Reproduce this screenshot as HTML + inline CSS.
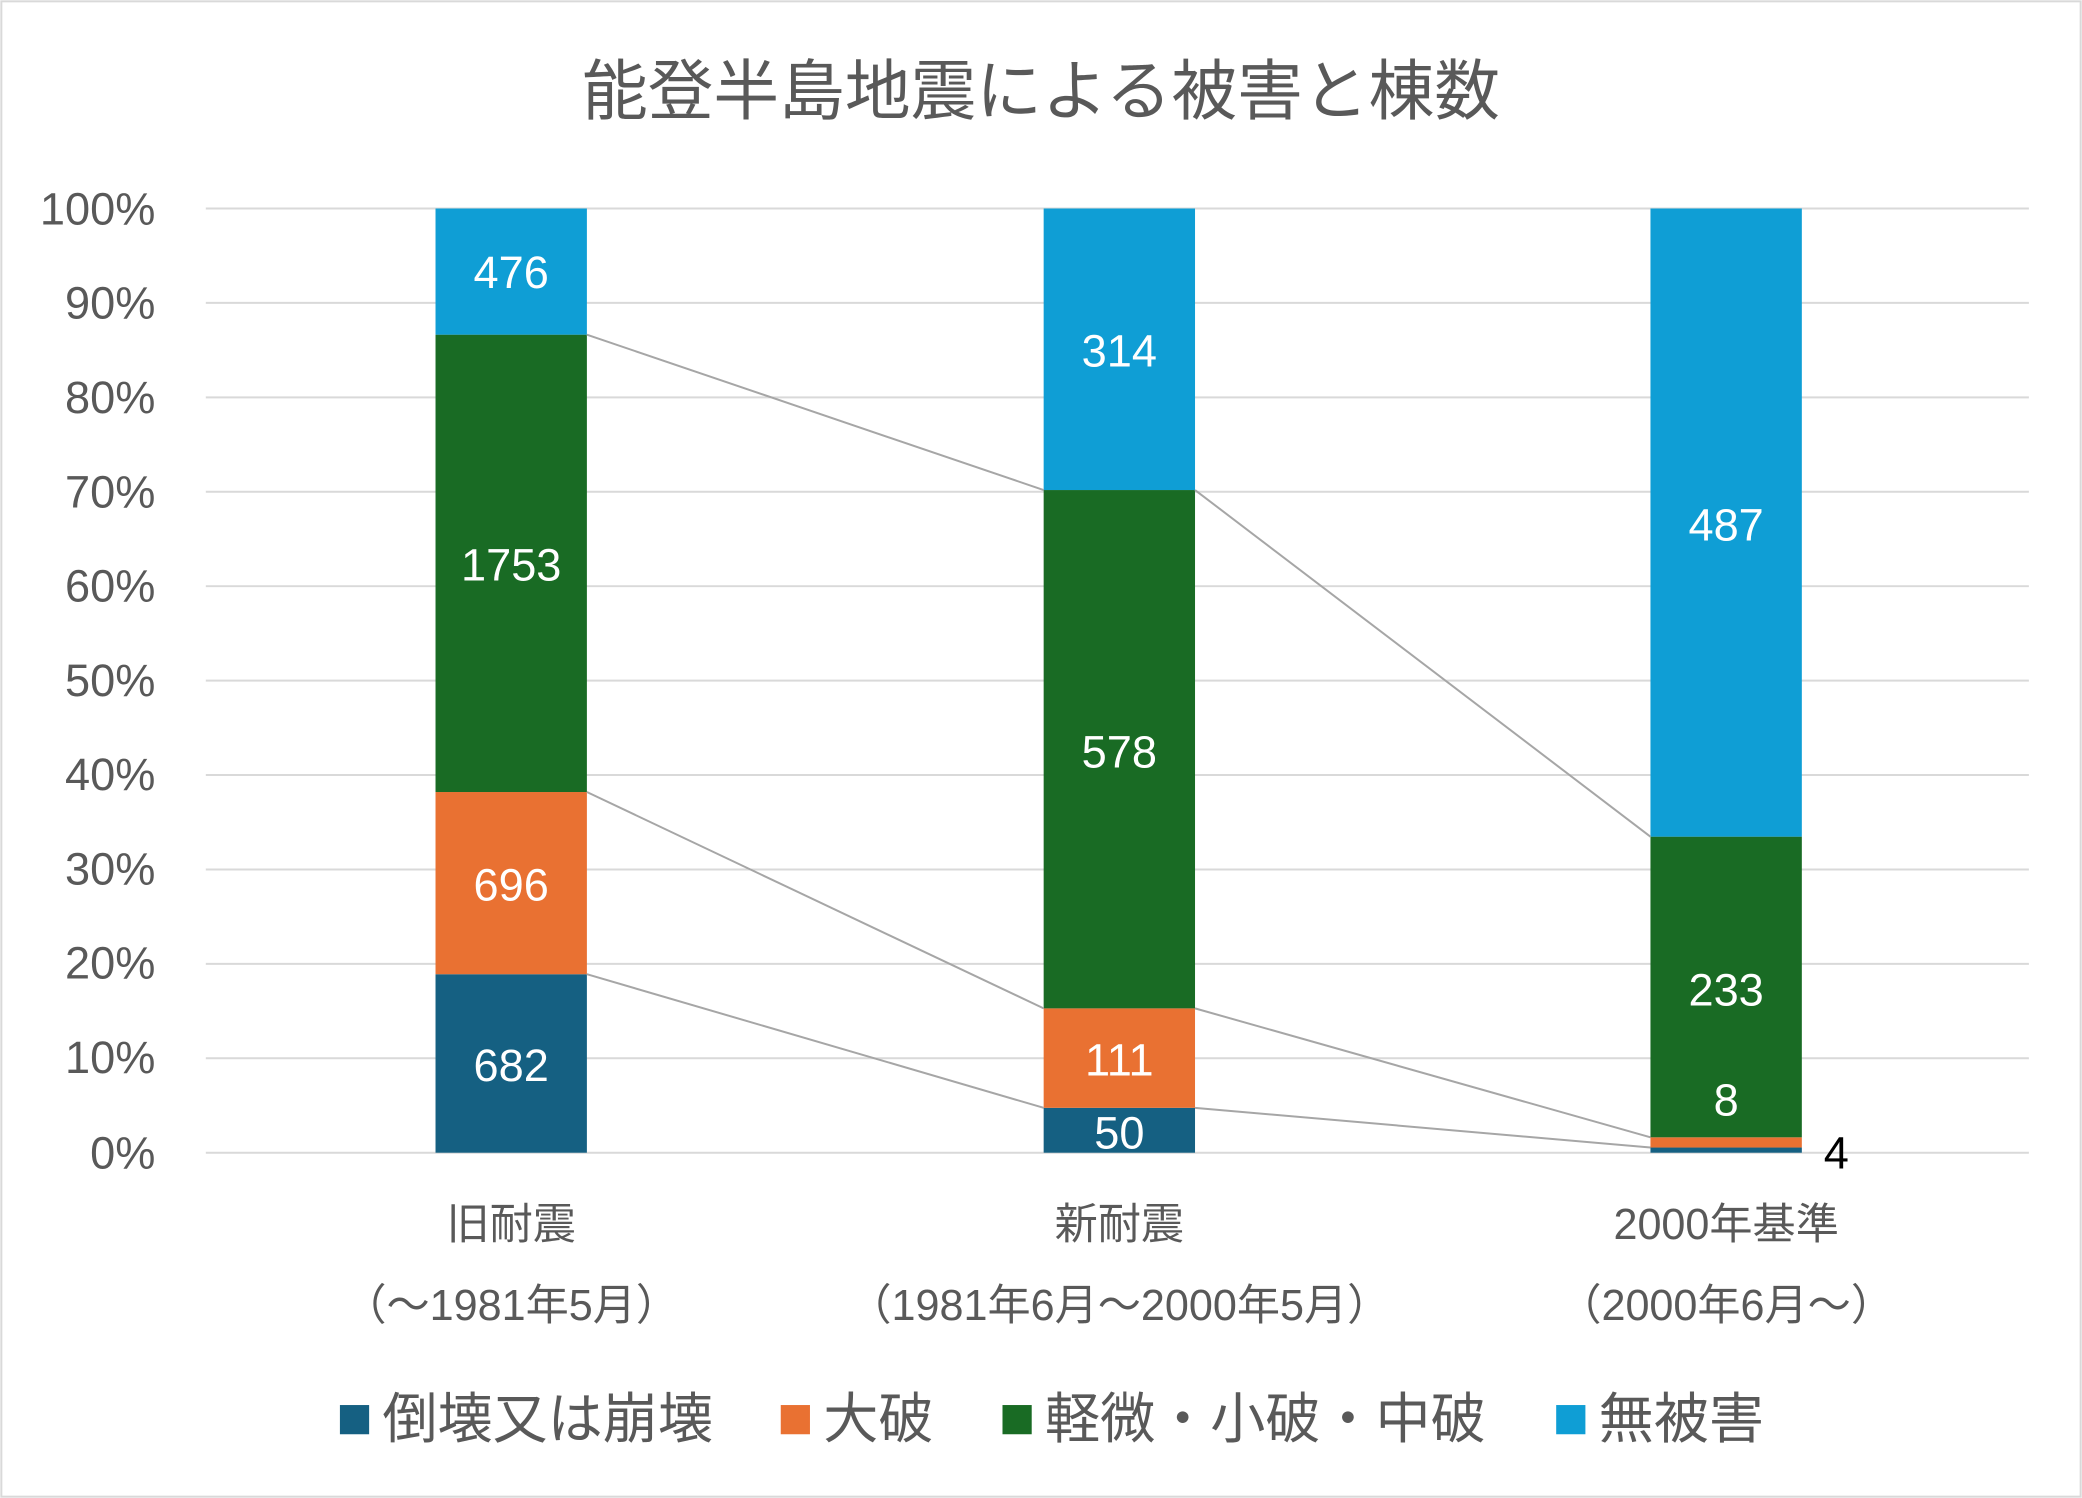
<!DOCTYPE html>
<html><head><meta charset="utf-8"><style>
html,body{margin:0;padding:0;background:#fff;}
svg{display:block;}
text{font-family:"Liberation Sans","Noto Sans CJK JP",sans-serif;}
</style></head><body>
<svg width="2082" height="1498" viewBox="0 0 1568 1128" preserveAspectRatio="none" xmlns="http://www.w3.org/2000/svg">
<rect x="0" y="0" width="1568" height="1128" fill="#fff"/>
<rect x="1" y="1" width="1566" height="1126" fill="none" stroke="#d9d9d9" stroke-width="1.5"/>
<text x="784" y="86" text-anchor="middle" font-size="49.5" fill="#595959">能登半島地震による被害と棟数</text>
<g stroke="#d9d9d9" stroke-width="1.5">
<line x1="155" x2="1528" y1="157" y2="157"/>
<line x1="155" x2="1528" y1="228.1" y2="228.1"/>
<line x1="155" x2="1528" y1="299.2" y2="299.2"/>
<line x1="155" x2="1528" y1="370.3" y2="370.3"/>
<line x1="155" x2="1528" y1="441.4" y2="441.4"/>
<line x1="155" x2="1528" y1="512.5" y2="512.5"/>
<line x1="155" x2="1528" y1="583.6" y2="583.6"/>
<line x1="155" x2="1528" y1="654.7" y2="654.7"/>
<line x1="155" x2="1528" y1="725.8" y2="725.8"/>
<line x1="155" x2="1528" y1="796.9" y2="796.9"/>
<line x1="155" x2="1528" y1="868" y2="868"/>
</g>
<g font-size="34" fill="#595959" text-anchor="end">
<text x="117" y="169">100%</text>
<text x="117" y="240">90%</text>
<text x="117" y="311">80%</text>
<text x="117" y="382">70%</text>
<text x="117" y="453">60%</text>
<text x="117" y="524">50%</text>
<text x="117" y="595">40%</text>
<text x="117" y="666">30%</text>
<text x="117" y="737">20%</text>
<text x="117" y="808">10%</text>
<text x="117" y="880">0%</text>
</g>
<rect x="328" y="733.6" width="114" height="134.4" fill="#156082"/>
<rect x="328" y="596.4" width="114" height="137.2" fill="#E97132"/>
<rect x="328" y="252" width="114" height="344.4" fill="#196B24"/>
<rect x="328" y="157" width="114" height="95" fill="#0F9ED5"/>
<rect x="786" y="834.2" width="114" height="33.8" fill="#156082"/>
<rect x="786" y="759.3" width="114" height="74.9" fill="#E97132"/>
<rect x="786" y="369" width="114" height="390.3" fill="#196B24"/>
<rect x="786" y="157" width="114" height="212" fill="#0F9ED5"/>
<rect x="1243" y="864.1" width="114" height="3.9" fill="#156082"/>
<rect x="1243" y="856.4" width="114" height="7.7" fill="#E97132"/>
<rect x="1243" y="630" width="114" height="226.4" fill="#196B24"/>
<rect x="1243" y="157" width="114" height="473" fill="#0F9ED5"/>
<g stroke="#a6a6a6" stroke-width="1.5">
<line x1="442" y1="733.6" x2="786" y2="834.2"/>
<line x1="442" y1="596.4" x2="786" y2="759.3"/>
<line x1="442" y1="252" x2="786" y2="369"/>
<line x1="900" y1="834.2" x2="1243" y2="864.1"/>
<line x1="900" y1="759.3" x2="1243" y2="856.4"/>
<line x1="900" y1="369" x2="1243" y2="630"/>
</g>
<g font-size="34" fill="#fff" text-anchor="middle">
<text x="385" y="217">476</text>
<text x="385" y="437">1753</text>
<text x="385" y="678">696</text>
<text x="385" y="814">682</text>
<text x="843" y="276">314</text>
<text x="843" y="578">578</text>
<text x="843" y="810">111</text>
<text x="843" y="865">50</text>
<text x="1300" y="407">487</text>
<text x="1300" y="757">233</text>
<text x="1300" y="840">8</text>
</g>
<text x="1383" y="880" font-size="34" fill="#000" text-anchor="middle">4</text>
<g font-size="32.5" fill="#595959" text-anchor="middle">
<text x="385" y="933">旧耐震</text>
<text x="385" y="994">（～1981年5月）</text>
<text x="843" y="933">新耐震</text>
<text x="843" y="994">（1981年6月～2000年5月）</text>
<text x="1300" y="933">2000年基準</text>
<text x="1300" y="994">（2000年6月～）</text>
</g>
<g font-size="41.5" fill="#595959">
<rect x="256" y="1058" width="22" height="22" fill="#156082"/>
<text x="288" y="1083">倒壊又は崩壊</text>
<rect x="588" y="1058" width="22" height="22" fill="#E97132"/>
<text x="620" y="1083">大破</text>
<rect x="755" y="1058" width="22" height="22" fill="#196B24"/>
<text x="787" y="1083">軽微・小破・中破</text>
<rect x="1172" y="1058" width="22" height="22" fill="#0F9ED5"/>
<text x="1204" y="1083">無被害</text>
</g>
</svg>
</body></html>
